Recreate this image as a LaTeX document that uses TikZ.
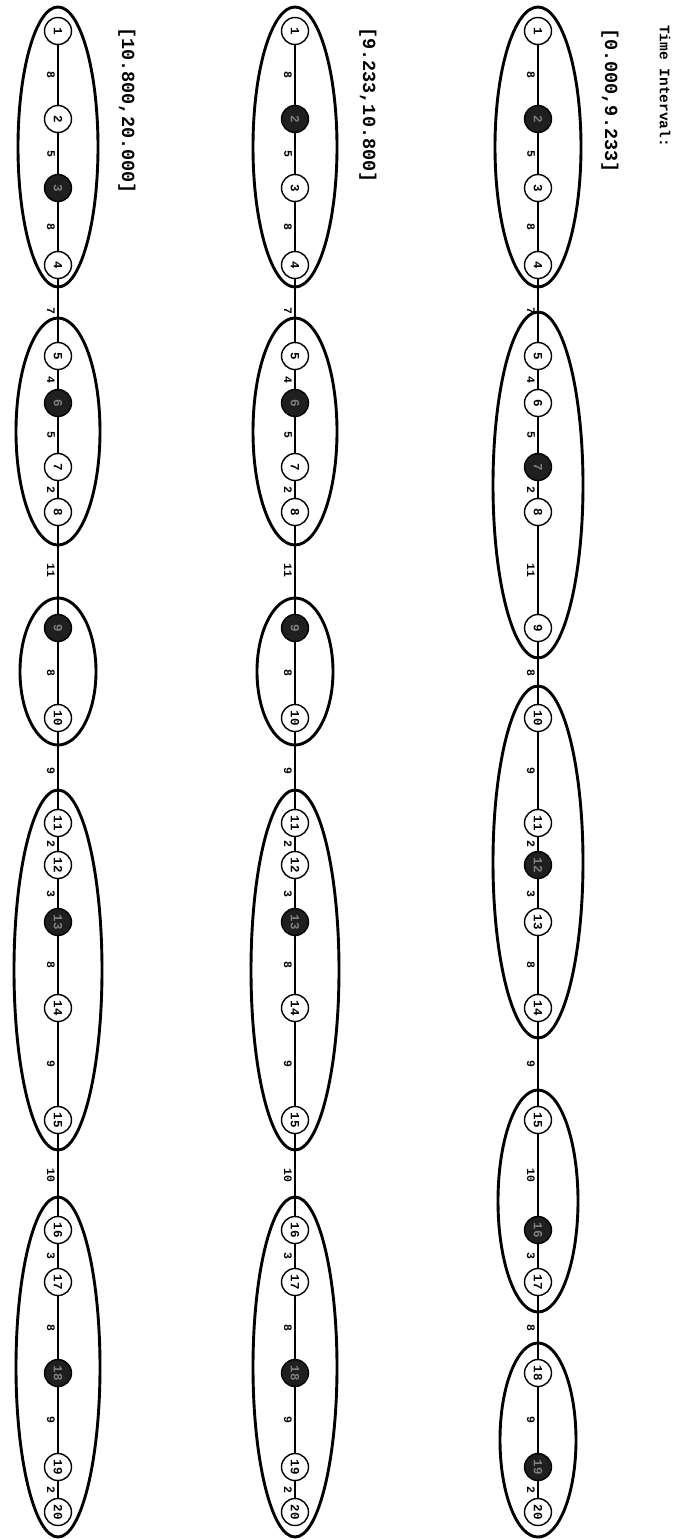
\documentclass[tikz,border=0pt]{standalone}
\usepackage{fontspec}
\newfontfamily\monob{Liberation Mono}
\usetikzlibrary{shapes.geometric,calc}
\tikzset{
  nd/.style={circle,draw,line width=1.4pt,fill=white,minimum size=27pt,inner sep=0pt,
    font=\monob\bfseries\fontsize{12.5}{12.5}\selectfont,rotate=-90},
  fd/.style={nd,fill=black!88,text=black!50},
  grp/.style={ellipse,draw,line width=2.9pt,inner sep=0pt},
  edge/.style={line width=1.2pt},
  wl/.style={font=\monob\bfseries\fontsize{11.5}{11.5}\selectfont,inner sep=0pt,rotate=-90},
  ttl/.style={font=\monob\bfseries\fontsize{14.5}{14.5}\selectfont,anchor=west,rotate=-90,inner sep=0pt},
  ivl/.style={font=\monob\bfseries\fontsize{18.5}{18.5}\selectfont,anchor=west,rotate=-90,inner sep=0pt}
}
\newcommand\mkcol[3]{%
  \foreach \y/\s [count=\i] in {#3} { \node[\s] (#1\i) at (#2,\y) {\i}; }
  \foreach \w [count=\i] in {8,5,8,7,4,5,2,11,8,9,2,3,8,9,10,3,8,9,2} {
    \pgfmathtruncatemacro\j{\i+1}
    \draw[edge] (#1\i) -- (#1\j);
    \node[wl] (#1w\i) at ($(#1\i)!0.5!(#1\j)+(-7,0)$) {\w};
  }
}
\begin{document}
\begin{tikzpicture}[x=1pt,y=-1pt]
\useasboundingbox (0,0) rectangle (675,1539);
\fill[white] (0,0) rectangle (675,1539);

% titles
\node[ttl] (title) at (665,25) {Time Interval:};
\node[ivl] (i1) at (610,28) {[0.000,9.233]};
\node[ivl] (i2) at (368,27) {[9.233,10.800]};
\node[ivl] (i3) at (127,27) {[10.800,20.000]};

% column 1 groups
\node[grp,minimum width=86pt,minimum height=280pt] (ag1) at (538,147) {};
\node[grp,minimum width=90pt,minimum height=346pt] (ag2) at (538,485) {};
\node[grp,minimum width=90pt,minimum height=352pt] (ag3) at (538,862) {};
\node[grp,minimum width=80pt,minimum height=222pt] (ag4) at (538,1201) {};
\node[grp,minimum width=76pt,minimum height=194pt] (ag5) at (538,1440) {};

% column 2 groups
\node[grp,minimum width=84pt,minimum height=280pt] (bg1) at (295,147) {};
\node[grp,minimum width=84pt,minimum height=227pt] (bg2) at (295,431.5) {};
\node[grp,minimum width=76pt,minimum height=147pt] (bg3) at (295,671.5) {};
\node[grp,minimum width=88pt,minimum height=360pt] (bg4) at (295,970) {};
\node[grp,minimum width=84pt,minimum height=340pt] (bg5) at (295,1367) {};

% column 3 groups
\node[grp,minimum width=80pt,minimum height=280pt] (cg1) at (58,147) {};
\node[grp,minimum width=84pt,minimum height=227pt] (cg2) at (58,431.5) {};
\node[grp,minimum width=76pt,minimum height=147pt] (cg3) at (58,671.5) {};
\node[grp,minimum width=88pt,minimum height=360pt] (cg4) at (58,970) {};
\node[grp,minimum width=84pt,minimum height=340pt] (cg5) at (58,1367) {};

\mkcol{a}{538}{31/nd,119/fd,188/nd,265/nd,356/nd,403/nd,467/fd,512/nd,628/nd,718/nd,823/nd,865/fd,922/nd,1008/nd,1120/nd,1230/fd,1282/nd,1373/nd,1467/fd,1512/nd}
\mkcol{b}{295}{31/nd,119/fd,188/nd,265/nd,356/nd,403/fd,467/nd,512/nd,628/fd,718/nd,823/nd,865/nd,922/fd,1008/nd,1120/nd,1230/nd,1282/nd,1373/fd,1467/nd,1512/nd}
\mkcol{c}{58}{31/nd,119/nd,188/fd,265/nd,356/nd,403/fd,467/nd,512/nd,628/fd,718/nd,823/nd,865/nd,922/fd,1008/nd,1120/nd,1230/nd,1282/nd,1373/fd,1467/nd,1512/nd}
\end{tikzpicture}
\end{document}
